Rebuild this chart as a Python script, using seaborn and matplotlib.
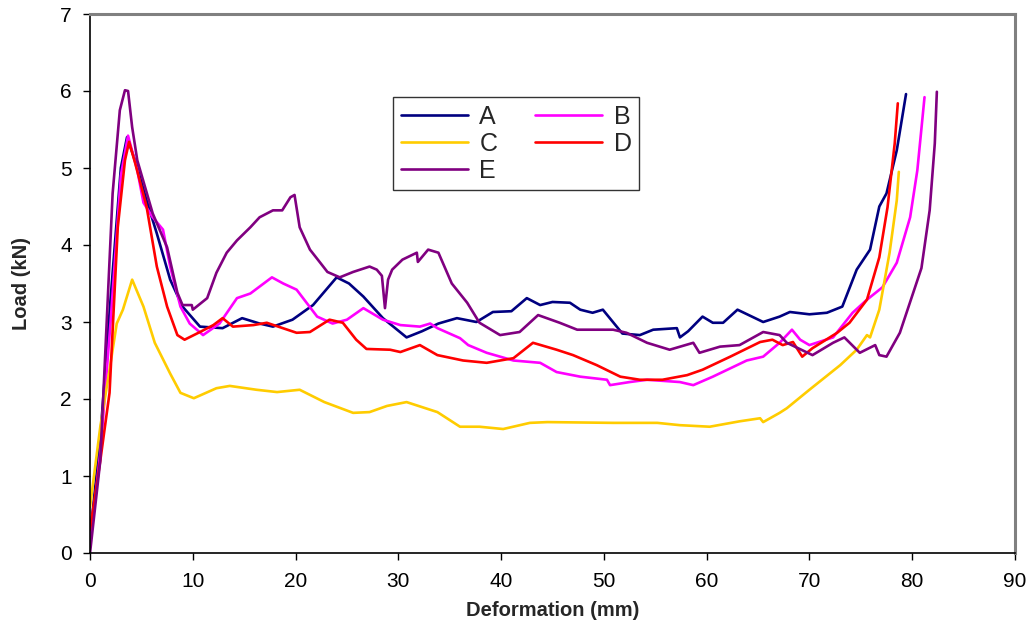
import pandas as pd
import matplotlib
matplotlib.use("Agg")
import matplotlib.pyplot as plt
import seaborn as sns

# digitised load / deformation curves
A_x = [0, 1, 2, 3, 3.6, 4.5, 5.5, 6.5, 7.8, 9.0, 10.7, 12.9, 14.8, 16.5, 17.8, 19.7, 21.7, 24.0, 25.2, 26.6,
       28.5, 30.8, 32.3, 33.9, 35.7, 37.6, 39.2, 41.0, 42.5, 43.8, 45.0, 46.7, 47.7, 48.9, 49.9, 51.8, 53.5, 54.8,
       57.1, 57.4, 58.2, 59.6, 60.6, 61.6, 63.0, 65.5, 67.1, 68.1, 70.0, 71.7, 73.2, 74.6, 75.9, 76.8, 77.5, 78.5, 79.4]
A_y = [0.2, 1.5, 3.3, 5.0, 5.4, 5.05, 4.58, 4.15, 3.55, 3.2, 2.94, 2.92, 3.05, 2.98, 2.94, 3.03, 3.22, 3.58, 3.5, 3.33,
       3.05, 2.8, 2.88, 2.98, 3.05, 3.0, 3.13, 3.14, 3.31, 3.22, 3.26, 3.25, 3.16, 3.12, 3.16, 2.85, 2.83, 2.9,
       2.92, 2.8, 2.88, 3.07, 2.99, 2.99, 3.16, 3.0, 3.07, 3.13, 3.1, 3.12, 3.2, 3.68, 3.94, 4.5, 4.67, 5.23, 5.96]

B_x = [0, 1, 2, 3, 3.7, 4.6, 5.2, 6.1, 7.1, 7.8, 8.8, 9.7, 11.0, 12.6, 14.3, 15.6, 17.7, 18.8, 20.1, 22.1,
       23.6, 25.0, 26.6, 28.5, 30.2, 32.1, 33.1, 33.8, 36.0, 36.8, 38.6, 41.2, 43.8, 45.4, 47.7, 50.3, 50.6, 52.5,
       54.2, 57.4, 58.7, 60.6, 63.9, 65.5, 67.1, 68.3, 69.1, 70.0, 72.3, 74.2, 75.6, 77.1, 78.5, 79.8, 80.5, 81.2]
B_y = [0.1, 1.3, 3.0, 4.9, 5.42, 4.97, 4.55, 4.36, 4.2, 3.72, 3.2, 2.98, 2.83, 2.98, 3.31, 3.37, 3.58, 3.5, 3.42, 3.07,
       2.98, 3.03, 3.18, 3.03, 2.96, 2.94, 2.98, 2.92, 2.79, 2.7, 2.6, 2.5, 2.47, 2.35, 2.29, 2.25, 2.18, 2.22,
       2.25, 2.22, 2.18, 2.29, 2.5, 2.55, 2.73, 2.9, 2.77, 2.7, 2.8, 3.12, 3.29, 3.45, 3.77, 4.36, 4.97, 5.92]

C_x = [0, 1.0, 1.9, 2.6, 3.2, 4.1, 5.2, 6.3, 7.8, 8.8, 10.1, 12.3, 13.6, 16.2, 18.2, 20.4, 22.8, 25.6, 27.2, 28.9,
       30.8, 33.8, 36.0, 37.9, 40.2, 42.8, 44.5, 50.9, 55.2, 57.4, 60.3, 63.2, 65.2, 65.5, 67.1, 67.8, 70.0, 73.0,
       74.6, 75.6, 75.9, 76.8, 77.8, 78.5, 78.7]
C_y = [0.6, 1.64, 2.38, 2.98, 3.16, 3.55, 3.2, 2.73, 2.33, 2.08, 2.01, 2.14, 2.17, 2.12, 2.09, 2.12, 1.96, 1.82, 1.83, 1.91,
       1.96, 1.83, 1.64, 1.64, 1.61, 1.69, 1.7, 1.69, 1.69, 1.66, 1.64, 1.71, 1.75, 1.7, 1.82, 1.88, 2.12, 2.44,
       2.64, 2.83, 2.8, 3.16, 3.9, 4.58, 4.95]

D_x = [0, 1.0, 1.9, 2.7, 3.4, 3.8, 4.4, 5.5, 6.5, 7.5, 8.5, 9.2, 10.7, 12.0, 12.9, 13.9, 15.9, 17.2, 20.1, 21.4,
       23.3, 24.6, 25.9, 26.9, 29.2, 30.2, 32.1, 33.8, 36.3, 38.6, 41.2, 43.1, 45.4, 47.0, 49.3, 51.6, 53.5, 55.7,
       58.1, 59.6, 62.3, 65.2, 66.4, 67.4, 68.4, 69.3, 70.3, 72.7, 73.9, 75.6, 76.8, 77.6, 78.3, 78.6]
D_y = [0.3, 1.2, 2.08, 4.23, 5.1, 5.34, 5.06, 4.5, 3.72, 3.2, 2.83, 2.77, 2.87, 2.96, 3.05, 2.94, 2.96, 2.99, 2.86, 2.87,
       3.03, 2.99, 2.77, 2.65, 2.64, 2.61, 2.7, 2.57, 2.5, 2.47, 2.53, 2.73, 2.64, 2.57, 2.44, 2.29, 2.25, 2.25,
       2.31, 2.38, 2.55, 2.74, 2.77, 2.7, 2.74, 2.55, 2.66, 2.86, 2.99, 3.29, 3.84, 4.49, 5.32, 5.84]

E_x = [0, 1.0, 2.2, 2.9, 3.4, 3.7, 4.1, 4.6, 6.1, 7.5, 8.5, 9.0, 9.9, 10.0, 11.4, 12.3, 13.3, 14.3, 15.6, 16.5,
       17.8, 18.7, 19.5, 19.9, 20.4, 21.4, 22.4, 23.1, 24.3, 25.6, 27.2, 27.9, 28.4, 28.7, 29.0, 29.4, 30.4, 31.8,
       31.9, 32.9, 33.9, 35.2, 36.7, 37.9, 39.9, 41.8, 43.6, 45.7, 47.4, 50.9, 52.2, 54.2, 56.4, 58.7, 59.3, 61.3,
       63.2, 65.5, 67.1, 67.8, 70.3, 72.3, 73.4, 74.9, 76.4, 76.8, 77.5, 78.8, 80.1, 80.9, 81.7, 82.2, 82.4]
E_y = [0.0, 1.2, 4.67, 5.75, 6.01, 6.0, 5.53, 5.1, 4.41, 3.97, 3.38, 3.22, 3.22, 3.16, 3.31, 3.64, 3.9, 4.06, 4.23, 4.36,
       4.45, 4.45, 4.62, 4.65, 4.23, 3.94, 3.77, 3.65, 3.58, 3.65, 3.72, 3.68, 3.6, 3.18, 3.55, 3.68, 3.81, 3.9,
       3.78, 3.94, 3.9, 3.5, 3.25, 2.99, 2.83, 2.87, 3.09, 2.99, 2.9, 2.9, 2.86, 2.73, 2.64, 2.73, 2.6, 2.68,
       2.7, 2.87, 2.83, 2.73, 2.57, 2.73, 2.8, 2.6, 2.7, 2.57, 2.55, 2.86, 3.38, 3.7, 4.45, 5.32, 5.99]

names = ["A", "B", "C", "D", "E"]
colors = ["#000080", "#FF00FF", "#FFCC00", "#FF0000", "#800080"]
curves = {"A": (A_x, A_y), "B": (B_x, B_y), "C": (C_x, C_y), "D": (D_x, D_y), "E": (E_x, E_y)}

frames = []
for n in names:
    x, y = curves[n]
    frames.append(pd.DataFrame({"Deformation": x, "Load": y, "Specimen": n}))
df = pd.concat(frames, ignore_index=True)

sns.set_style("ticks")
plt.rcParams["font.family"] = ["Liberation Sans", "DejaVu Sans"]

fig = plt.figure(figsize=(10.3, 6.25), dpi=100)
ax = fig.add_axes([0.0874, 0.1152, 0.898, 0.8624])

sns.lineplot(data=df, x="Deformation", y="Load", hue="Specimen", hue_order=names,
             palette=dict(zip(names, colors)), sort=False, estimator=None,
             linewidth=1.9, ax=ax)

ax.set_xlim(0, 90)
ax.set_ylim(0, 7)
ax.set_xticks(range(0, 91, 10))
ax.set_yticks(range(0, 8))
ax.set_xlabel("Deformation (mm)", fontsize=14.5, fontweight="bold", labelpad=7)
ax.set_ylabel("Load (kN)", fontsize=14.5, fontweight="bold", labelpad=21)
ax.tick_params(axis="both", labelsize=15, direction="out", length=5, width=1, colors="black")
ax.tick_params(axis="x", pad=9)
ax.tick_params(axis="y", pad=8)
for s in ["left", "bottom"]:
    ax.spines[s].set_color("black")
    ax.spines[s].set_linewidth(1.2)
for s in ["top", "right"]:
    ax.spines[s].set_visible(True)
    ax.spines[s].set_color("#808080")
    ax.spines[s].set_linewidth(2.2)

# row-wise legend order: A B / C D / E
h, l = ax.get_legend_handles_labels()
order = [0, 2, 4, 1, 3]
leg = ax.legend([h[i] for i in order], [l[i] for i in order], ncol=2, loc="upper left",
                bbox_to_anchor=(0.3276, 0.846), borderaxespad=0, fontsize=18,
                frameon=True, fancybox=False, edgecolor="black", handlelength=2.7,
                handletextpad=0.45, columnspacing=1.5, labelspacing=0.12, borderpad=0.3)
leg.get_frame().set_linewidth(1)

fig.savefig("out.png", dpi=100)
